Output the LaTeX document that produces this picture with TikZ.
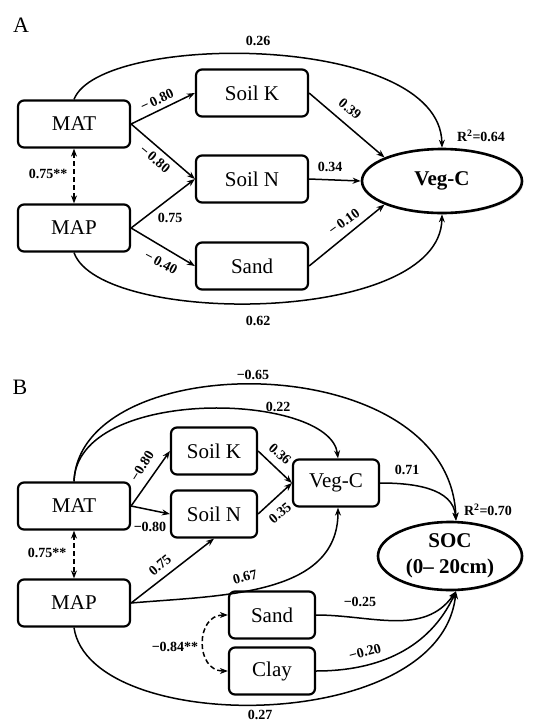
\documentclass[tikz,border=0pt]{standalone}
\usepackage{fontspec}
\setmainfont{Liberation Serif}
\usetikzlibrary{arrows.meta,shapes.geometric,shadows}
\begin{document}
\begin{tikzpicture}[x=1pt,y=-1pt,
  box/.style={draw, line width=2.2pt, rounded corners=6pt, fill=white, font=\rmfamily\fontsize{21}{24}\selectfont, inner sep=0pt},
  bigbox/.style={box, minimum width=112pt, minimum height=47pt},
  smallbox/.style={box, minimum width=86pt, minimum height=47pt},
  ell/.style={draw, ellipse, line width=2.6pt, fill=white, inner sep=0pt, font=\rmfamily\bfseries\fontsize{21}{26}\selectfont, align=center, drop shadow={opacity=0.25, shadow xshift=1.5pt, shadow yshift=-1.5pt}},
  arr/.style={line width=1.5pt, -{Stealth[length=8pt,width=6pt]}},
  darr/.style={line width=1.5pt, dash pattern=on 5pt off 3pt, {Stealth[length=8pt,width=6pt]}-{Stealth[length=8pt,width=6pt]}},
  lab/.style={font=\rmfamily\bfseries\fontsize{14}{16}\selectfont, inner sep=1pt},
  panel/.style={font=\rmfamily\fontsize{22}{24}\selectfont}
]
\useasboundingbox (0,0) rectangle (538,724);

% ---------------- Panel A ----------------
\node[panel] (labA) at (21,25) {A};
\node[bigbox] (MATa) at (74,124) {MAT};
\node[bigbox] (MAPa) at (74,228) {MAP};
\node[bigbox] (SoilKa) at (252,93) {Soil K};
\node[bigbox] (SoilNa) at (252,179) {Soil N};
\node[bigbox] (Sanda) at (252,266) {Sand};
\node[ell, minimum width=160pt, minimum height=64pt] (VegA) at (442,181) {Veg-C};

\draw[arr] (MATa.north) .. controls (100,32) and (440,32) .. (VegA.north);
\draw[arr] (MAPa.south) .. controls (100,326) and (440,326) .. (VegA.south);
\draw[arr] (MATa.east) -- (SoilKa.west);
\draw[arr] (MATa.east) -- (SoilNa.west);
\draw[arr] (MAPa.east) -- (SoilNa.west);
\draw[arr] (MAPa.east) -- (Sanda.west);
\draw[arr] (SoilKa.east) -- (VegA.north west);
\draw[arr] (SoilNa.east) -- (VegA.west);
\draw[arr] (Sanda.east) -- (VegA.south west);
\draw[darr] (MATa.south) -- (MAPa.north);

\node[lab] (a1) at (258,41) {0.26};
\node[lab] (a2) at (258,321) {0.62};
\node[lab, rotate=25] (a3) at (157,100) {−\,0.80};
\node[lab, rotate=-40] (a4) at (155,159) {−\,0.80};
\node[lab] (a5) at (170,218) {0.75};
\node[lab, rotate=-28] (a6) at (161,263) {−\,0.40};
\node[lab, rotate=-40] (a7) at (350,109) {0.39};
\node[lab] (a8) at (330,167) {0.34};
\node[lab, rotate=36] (a9) at (344,222) {−\,0.10};
\node[lab] (a10) at (48,174) {0.75**};
\node[lab] (a11) at (481,136) {R\textsuperscript{2}=0.64};

% ---------------- Panel B ----------------
\node[panel] (labB) at (20,387) {B};
\node[bigbox] (MATb) at (74,506) {MAT};
\node[bigbox] (MAPb) at (74,603) {MAP};
\node[smallbox] (SoilKb) at (214,451) {Soil K};
\node[smallbox] (SoilNb) at (214,514) {Soil N};
\node[smallbox] (VegB) at (336,483) {Veg-C};
\node[smallbox] (SandB) at (272,615) {Sand};
\node[smallbox] (ClayB) at (272,671) {Clay};
\node[ell, minimum width=144pt, minimum height=68pt] (SOC) at (450,556) {SOC\\(0– 20cm)};
\coordinate (SOCtop) at ([xshift=6pt]SOC.north);
\coordinate (SOCbot) at ([xshift=6pt]SOC.south);

\draw[arr] (MATb.north) .. controls (80,346) and (450,346) .. (SOCtop);
\draw[arr] (MATb.north) .. controls (77,385) and (330,392) .. ([xshift=2pt]VegB.north);
\draw[arr] (MATb.east) -- (SoilKb.west);
\draw[arr] (MATb.east) -- (SoilNb.west);
\draw[arr] (SoilKb.east) -- (VegB.west);
\draw[arr] (SoilNb.east) -- (VegB.west);
\draw[arr] (MAPb.east) -- (SoilNb.south);
\draw[arr] (MAPb.east) to[out=5,in=-90] ([xshift=2pt]VegB.south);
\draw[arr] (VegB.east) to[out=0,in=95] (SOCtop);
\draw[arr] (SandB.east) to[out=0,in=-125] (SOCbot);
\draw[arr] (ClayB.east) to[out=0,in=-115] (SOCbot);
\draw[arr] (MAPb.south) .. controls (90,736) and (440,736) .. (SOCbot);
\draw[darr] (SandB.west) to[out=180,in=180,looseness=1.5] (ClayB.west);
\draw[darr] (MATb.south) -- (MAPb.north);

\node[lab] (b1) at (253,375) {−0.65};
\node[lab] (b2) at (278,407) {0.22};
\node[lab, rotate=58] (b3) at (142,466) {−0.80};
\node[lab] (b4) at (150,527) {−0.80};
\node[lab, rotate=-42] (b5) at (280,454) {0.36};
\node[lab, rotate=40] (b6) at (280,513) {0.35};
\node[lab] (b7) at (407,470) {0.71};
\node[lab] (b8) at (488,510) {R\textsuperscript{2}=0.70};
\node[lab] (b9) at (47,553) {0.75**};
\node[lab, rotate=40] (b10) at (160,565) {0.75};
\node[lab, rotate=15] (b11) at (245,577) {0.67};
\node[lab] (b12) at (360,602) {−0.25};
\node[lab] (b13) at (175,647) {−0.84**};
\node[lab, rotate=15] (b14) at (365,652) {−0.20};
\node[lab] (b15) at (260,715) {0.27};
\end{tikzpicture}
\end{document}
